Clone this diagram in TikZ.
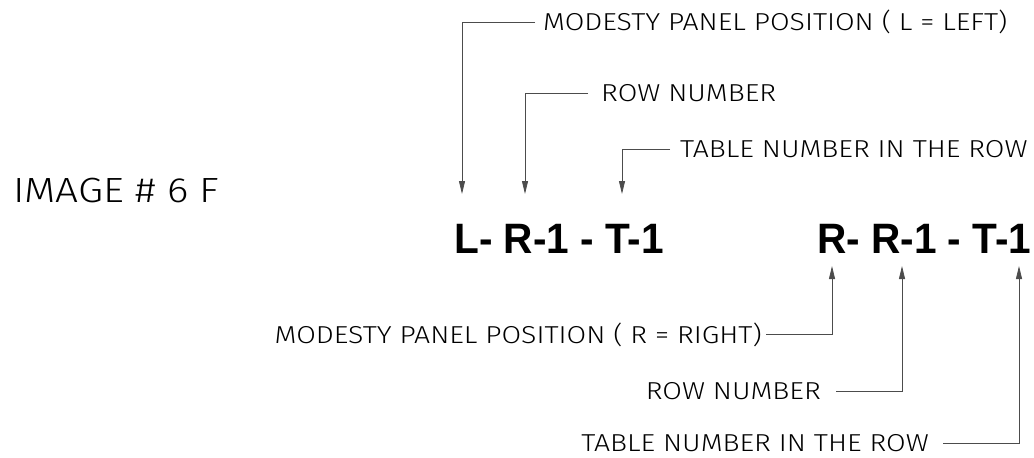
\documentclass[tikz,border=0pt]{standalone}
\usepackage{fontspec}
\setmainfont{Liberation Sans}
\newfontfamily\cadfont{Fira Sans Light}[FakeStretch=1.16]
\newfontfamily\codefont{Liberation Sans}[FakeStretch=0.955]
\usetikzlibrary{arrows.meta}
\begin{document}
\begin{tikzpicture}[x=1pt,y=-1pt,
  lbl/.style={font=\cadfont\fontsize{24.5}{24.5}\selectfont, inner sep=0pt, text height=17pt, text depth=0pt},
  big/.style={font=\cadfont\fontsize{35}{35}\selectfont, inner sep=0pt, text height=24.5pt, text depth=0pt},
  code/.style={font=\codefont\bfseries\fontsize{42.5}{42.5}\selectfont, inner sep=0pt, text height=30.5pt, text depth=0pt},
  lead/.style={draw=black!70, line width=0.8pt, -{Triangle[length=13pt,width=6pt]}}]
\useasboundingbox (0,0) rectangle (1034,458);
% title
\node[big, anchor=west] (title) at (13,190.5) {IMAGE \# 6 F};
% codes
\node[code, anchor=west] (codeL) at (454,238.5) {L- R-1 - T-1};
\node[code, anchor=west] (codeR) at (817,238.5) {R- R-1 - T-1};
% arrow tips
\coordinate (t1) at (462,194);
\coordinate (t2) at (525,194);
\coordinate (t3) at (622,194);
\coordinate (b1) at (832,266);
\coordinate (b2) at (902,266);
\coordinate (b3) at (1019,266);
% top labels
\node[lbl, anchor=west] (l1) at (543,22) {MODESTY PANEL POSITION ( L = LEFT)};
\node[lbl, anchor=west] (l2) at (601,93) {ROW NUMBER};
\node[lbl, anchor=west] (l3) at (680,149) {TABLE NUMBER IN THE ROW};
% bottom labels
\node[lbl, anchor=east] (r1) at (762,334.5) {MODESTY PANEL POSITION ( R = RIGHT)};
\node[lbl, anchor=east] (r2) at (821,391) {ROW NUMBER};
\node[lbl, anchor=east] (r3) at (929,443) {TABLE NUMBER IN THE ROW};
% leaders
\draw[lead] ([xshift=-8pt]l1.west) -| (t1);
\draw[lead] ([xshift=-13pt]l2.west) -| (t2);
\draw[lead] ([xshift=-10pt]l3.west) -| (t3);
\draw[lead] ([xshift=4pt]r1.east) -| (b1);
\draw[lead] ([xshift=15pt]r2.east) -| (b2);
\draw[lead] ([xshift=14pt]r3.east) -| (b3);
\end{tikzpicture}
\end{document}
